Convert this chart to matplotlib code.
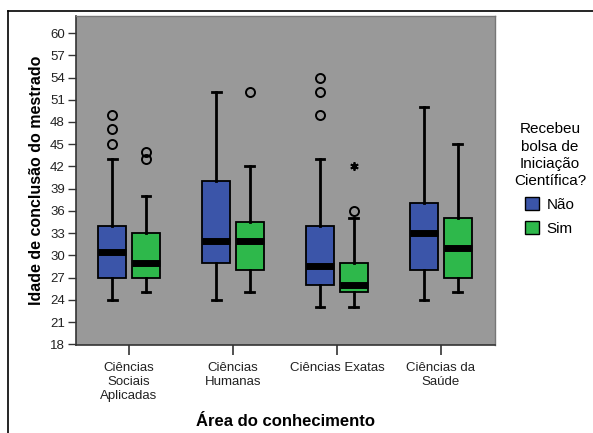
import numpy as np
import matplotlib
matplotlib.use('Agg')
import matplotlib.pyplot as plt
from matplotlib.lines import Line2D
from matplotlib.patches import Patch

plt.rcParams['font.family'] = ['Liberation Sans', 'DejaVu Sans']

areas = ['Ciências\nSociais\nAplicadas', 'Ciências\nHumanas', 'Ciências Exatas', 'Ciências da\nSaúde']
grupos = ['Não', 'Sim']

# estatísticas por área: (whisker inferior, Q1, mediana, Q3, whisker superior)
nao_stats = [(24, 27, 30.5, 34, 43), (24, 29, 32, 40, 52), (23, 26, 28.5, 34, 43), (24, 28, 33, 37, 50)]
sim_stats = [(25, 27, 29, 33, 38), (25, 28, 32, 34.5, 42), (23, 25, 26, 29, 35), (25, 27, 31, 35, 45)]
nao_outliers = [[45, 47, 49], [], [49, 52, 54], []]
sim_outliers = [[43, 44], [52], [36], []]
sim_extremos = [[], [], [42], []]

cor_nao = '#3b55a9'
cor_sim = '#2eb84b'


def to_bxp(stats, fliers):
    out = []
    for (lo, q1, med, q3, hi), fl in zip(stats, fliers):
        out.append({'whislo': lo, 'q1': q1, 'med': med, 'q3': q3, 'whishi': hi, 'fliers': fl})
    return out


fig = plt.figure(figsize=(5.93, 4.33), dpi=100)
ax = fig.add_axes([76 / 593, 1 - 345 / 433, 419 / 593, 329 / 433])
ax.set_facecolor('#999999')

x = np.arange(len(areas))
off = 0.16
larg = 0.27
for stats, fliers, cor, d in [(nao_stats, nao_outliers, cor_nao, -off), (sim_stats, sim_outliers, cor_sim, off)]:
    ax.bxp(to_bxp(stats, fliers), positions=x + d, widths=larg, patch_artist=True,
           boxprops=dict(facecolor=cor, edgecolor='black', linewidth=1.3),
           medianprops=dict(color='black', linewidth=5, solid_capstyle='butt'),
           whiskerprops=dict(color='black', linewidth=2),
           capprops=dict(color='black', linewidth=2),
           capwidths=0.08,
           flierprops=dict(marker='o', markerfacecolor='none', markeredgecolor='black',
                           markersize=6.5, markeredgewidth=1.4))

# valores extremos marcados com asterisco
for i, ext in enumerate(sim_extremos):
    for v in ext:
        ax.plot(x[i] + off, v, marker=(6, 2, 0), color='black', markersize=6, markeredgewidth=1.3)

ax.set_xlim(-0.51, 3.52)
ax.set_ylim(17.9, 62.3)
ax.set_yticks(np.arange(18, 61, 3))
ax.set_xticks(x)
ax.set_xticklabels(areas, fontsize=9.5, color='#222222', linespacing=1.25)
ax.tick_params(axis='y', labelsize=9.5, length=6, width=1, color='#333333', labelcolor='#222222', pad=2)
ax.tick_params(axis='x', length=7, width=1.2, color='#333333', pad=5)
for s in ['left', 'bottom']:
    ax.spines[s].set_color('#333333')
    ax.spines[s].set_linewidth(1.2)
for s in ['top', 'right']:
    ax.spines[s].set_color('#777777')
    ax.spines[s].set_linewidth(1)

ax.set_ylabel('Idade de conclusão do mestrado', fontsize=11.5, fontweight='bold', labelpad=4)
fig.text(285 / 593, 1 - 422 / 433, 'Área do conhecimento', fontsize=12, fontweight='bold',
         ha='center', va='center')

# legenda
handles = [Patch(facecolor=cor_nao, edgecolor='black', label='Não'),
           Patch(facecolor=cor_sim, edgecolor='black', label='Sim')]
leg = fig.legend(handles=handles, title='Recebeu\nbolsa de\nIniciação\nCientífica?',
                 loc='center', bbox_to_anchor=(550 / 593, 1 - 179 / 433), frameon=False,
                 fontsize=11, title_fontsize=11, handlelength=0.9, handleheight=0.9,
                 handletextpad=0.5, labelspacing=0.6)
leg.get_title().set_multialignment('center')
leg.get_title().set_linespacing(1.3)

# moldura externa
fig.add_artist(Line2D([8 / 593, 1], [1 - 11 / 433, 1 - 11 / 433], color='black', linewidth=1.2))
fig.add_artist(Line2D([8 / 593, 8 / 593], [0, 1 - 11 / 433], color='black', linewidth=1.2))

fig.savefig('out.png', dpi=100)
